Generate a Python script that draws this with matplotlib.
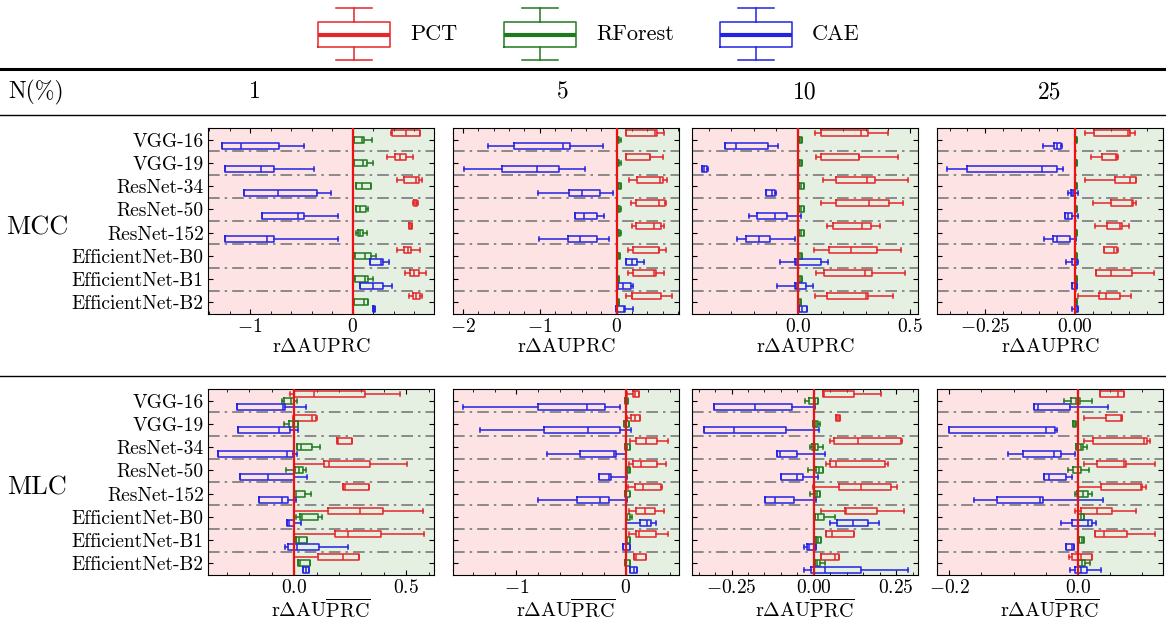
import numpy as np
import matplotlib
matplotlib.use('Agg')
import matplotlib.pyplot as plt
from matplotlib.ticker import MultipleLocator, AutoMinorLocator
from matplotlib.lines import Line2D

plt.rcParams.update({
    'font.family': 'serif',
    'font.serif': ['cmr10'],
    'mathtext.fontset': 'cm',
    'axes.formatter.use_mathtext': True,
})

# Models (rows of every panel) and methods
models = ['VGG-16', 'VGG-19', 'ResNet-34', 'ResNet-50', 'ResNet-152',
          'EfficientNet-B0', 'EfficientNet-B1', 'EfficientNet-B2']
methods = ['PCT', 'RForest', 'CAE']
n_pct = ['1', '5', '10', '25']

# box stats per model: [whislo, q1, median, q3, whishi]
# ---- MCC ----
mcc_n1_pct = [[0.37, 0.38, 0.514, 0.649, 0.655], [0.332, 0.415, 0.463, 0.521, 0.588],
              [0.425, 0.502, 0.613, 0.645, 0.671], [0.588, 0.591, 0.613, 0.629, 0.633],
              [0.548, 0.55, 0.562, 0.575, 0.578], [0.431, 0.502, 0.534, 0.566, 0.649],
              [0.511, 0.559, 0.597, 0.645, 0.716], [0.55, 0.588, 0.613, 0.652, 0.677]]
mcc_n1_rf = [[0.016, 0.016, 0.09, 0.112, 0.188], [0.016, 0.016, 0.096, 0.137, 0.201],
             [0.035, 0.035, 0.086, 0.173, 0.173], [0.032, 0.032, 0.07, 0.125, 0.150],
             [0.029, 0.054, 0.073, 0.102, 0.134], [0.016, 0.022, 0.118, 0.176, 0.224],
             [0.016, 0.022, 0.118, 0.150, 0.201], [0.016, 0.016, 0.112, 0.150, 0.150]]
mcc_n1_cae = [[-1.272, -1.272, -1.089, -0.722, -0.473], [-1.243, -1.243, -0.898, -0.764, -0.383],
              [-1.058, -1.058, -0.732, -0.348, -0.208], [-0.885, -0.885, -0.537, -0.476, -0.144],
              [-1.243, -1.243, -0.831, -0.77, -0.144], [0.169, 0.169, 0.278, 0.297, 0.351],
              [0.073, 0.073, 0.198, 0.291, 0.383], [0.195, 0.195, 0.208, 0.22, 0.22]]

mcc_n5_pct = [[0.126, 0.126, 0.492, 0.519, 0.614], [0.118, 0.118, 0.43, 0.431, 0.606],
              [0.161, 0.27, 0.558, 0.597, 0.658], [0.187, 0.253, 0.549, 0.627, 0.645],
              [0.2, 0.257, 0.484, 0.575, 0.61], [0.144, 0.209, 0.549, 0.549, 0.645],
              [0.153, 0.209, 0.479, 0.514, 0.614], [0.122, 0.196, 0.2, 0.571, 0.723]]
mcc_n5_rf = [[0.0, 0.01, 0.02, 0.035, 0.05], [0.0, 0.01, 0.02, 0.035, 0.05],
             [0.01, 0.01, 0.03, 0.055, 0.055], [0.005, 0.01, 0.02, 0.04, 0.05],
             [0.005, 0.01, 0.02, 0.045, 0.05], [0.005, 0.01, 0.02, 0.04, 0.045],
             [0.0, 0.005, 0.01, 0.025, 0.03], [0.0, 0.005, 0.01, 0.025, 0.03]]
mcc_n5_cae = [[-1.673, -1.342, -0.693, -0.61, -0.183], [-1.987, -1.49, -1.033, -0.745, -0.418],
              [-1.028, -0.623, -0.453, -0.222, -0.052], [-0.545, -0.545, -0.423, -0.261, -0.161],
              [-1.015, -0.632, -0.484, -0.253, -0.1], [0.126, 0.126, 0.2, 0.266, 0.353],
              [0.005, 0.013, 0.083, 0.183, 0.209], [-0.01, -0.005, 0.09, 0.105, 0.209]]

mcc_n10_pct = [[0.074, 0.101, 0.279, 0.312, 0.398], [0.077, 0.099, 0.27, 0.27, 0.445],
               [0.111, 0.168, 0.306, 0.343, 0.49], [0.101, 0.169, 0.316, 0.405, 0.467],
               [0.128, 0.153, 0.285, 0.323, 0.364], [0.068, 0.138, 0.236, 0.352, 0.46],
               [0.08, 0.116, 0.297, 0.329, 0.476], [0.074, 0.126, 0.3, 0.312, 0.423]]
mcc_n10_rf = [[0.003, 0.003, 0.008, 0.015, 0.015], [0.003, 0.003, 0.008, 0.018, 0.018],
              [0.003, 0.003, 0.01, 0.024, 0.024], [0.003, 0.003, 0.01, 0.024, 0.024],
              [0.003, 0.003, 0.01, 0.024, 0.024], [0.0, 0.0, 0.008, 0.018, 0.018],
              [0.0, 0.0, 0.008, 0.015, 0.015], [-0.003, -0.003, 0.004, 0.012, 0.012]]
mcc_n10_cae = [[-0.328, -0.328, -0.277, -0.134, -0.092], [-0.43, -0.43, -0.42, -0.409, -0.403],
               [-0.144, -0.144, -0.119, -0.104, -0.099], [-0.221, -0.187, -0.104, -0.052, 0.013],
               [-0.274, -0.236, -0.177, -0.126, -0.015], [-0.082, -0.015, -0.01, 0.102, 0.131],
               [-0.096, -0.015, -0.01, 0.036, 0.065], [0.004, 0.004, 0.015, 0.039, 0.039]]

mcc_n25_pct = [[0.027, 0.053, 0.148, 0.154, 0.169], [0.044, 0.076, 0.114, 0.118, 0.12],
               [0.027, 0.112, 0.154, 0.17, 0.17], [0.051, 0.1, 0.16, 0.162, 0.17],
               [0.057, 0.089, 0.126, 0.131, 0.152], [0.082, 0.082, 0.11, 0.118, 0.12],
               [0.06, 0.06, 0.101, 0.16, 0.221], [0.009, 0.067, 0.088, 0.126, 0.156]]
mcc_n25_rf = [[0.001, 0.002, 0.003, 0.005, 0.006]] * 8
mcc_n25_cae = [[-0.089, -0.059, -0.051, -0.038, -0.035], [-0.357, -0.3, -0.091, -0.049, -0.034],
               [-0.02, -0.012, -0.007, -0.003, 0.01], [-0.028, -0.028, -0.02, -0.007, 0.008],
               [-0.087, -0.061, -0.051, -0.014, 0.002], [-0.025, -0.008, -0.001, 0.007, 0.01],
               [-0.009, -0.009, 0.0, 0.006, 0.006], [-0.008, -0.001, 0.004, 0.01, 0.01]]

# ---- MLC ----
mlc_n1_pct = [[-0.019, 0.0, 0.089, 0.315, 0.47], [-0.007, 0.0, 0.081, 0.099, 0.1],
              [0.189, 0.189, 0.194, 0.259, 0.259], [0.0, 0.135, 0.155, 0.34, 0.503],
              [0.217, 0.217, 0.226, 0.333, 0.333], [0.0, 0.152, 0.293, 0.396, 0.574],
              [0.0, 0.182, 0.24, 0.389, 0.58], [0.0, 0.105, 0.216, 0.291, 0.291]]
mlc_n1_rf = [[-0.056, -0.044, -0.015, -0.003, 0.012], [-0.044, -0.025, -0.007, 0.015, 0.018],
             [0.012, 0.012, 0.03, 0.081, 0.114], [-0.037, 0.004, 0.022, 0.037, 0.052],
             [-0.001, -0.001, 0.007, 0.049, 0.074], [0.007, 0.027, 0.034, 0.105, 0.126],
             [0.01, 0.01, 0.02, 0.055, 0.055], [0.018, 0.018, 0.025, 0.071, 0.071]]
mlc_n1_cae = [[-0.257, -0.257, -0.049, -0.04, 0.052], [-0.25, -0.25, -0.067, -0.019, 0.015],
              [-0.34, -0.34, -0.033, -0.004, 0.012], [-0.241, -0.241, -0.118, 0.0, 0.059],
              [-0.158, -0.158, -0.055, -0.03, 0.007], [-0.034, -0.034, -0.022, -0.003, 0.03],
              [-0.043, -0.03, 0.012, 0.111, 0.24], [0.04, 0.04, 0.052, 0.067, 0.067]]

mlc_n5_pct = [[0.009, 0.061, 0.085, 0.121, 0.121], [0.009, 0.048, 0.079, 0.13, 0.13],
              [0.033, 0.094, 0.182, 0.282, 0.388], [0.024, 0.061, 0.136, 0.288, 0.364],
              [0.018, 0.085, 0.152, 0.318, 0.327], [0.024, 0.094, 0.17, 0.27, 0.348],
              [0.024, 0.088, 0.115, 0.276, 0.388], [0.076, 0.076, 0.094, 0.182, 0.182]]
mlc_n5_rf = [[-0.01, -0.01, 0.0, 0.015, 0.015], [-0.02, -0.02, 0.0, 0.025, 0.025],
             [-0.005, -0.005, 0.01, 0.04, 0.04], [0.01, 0.01, 0.02, 0.04, 0.04],
             [-0.012, -0.012, 0.005, 0.04, 0.04], [0.0, 0.0, 0.01, 0.035, 0.055],
             [0.003, 0.003, 0.01, 0.033, 0.033], [-0.005, -0.005, 0.005, 0.033, 0.033]]
mlc_n5_cae = [[-1.491, -0.803, -0.355, -0.188, -0.058], [-1.33, -0.748, -0.342, -0.058, 0.048],
              [-0.724, -0.421, -0.112, -0.091, 0.0], [-0.248, -0.248, -0.152, -0.136, 0.009],
              [-0.8, -0.445, -0.233, -0.152, 0.009], [0.0, 0.133, 0.191, 0.227, 0.273],
              [-0.03, -0.03, 0.0, 0.039, 0.039], [0.033, 0.033, 0.07, 0.1, 0.1]]

mlc_n10_pct = [[0.028, 0.028, 0.031, 0.121, 0.205], [0.068, 0.068, 0.074, 0.08, 0.08],
               [0.048, 0.061, 0.133, 0.263, 0.268], [0.038, 0.05, 0.068, 0.215, 0.225],
               [-0.004, 0.077, 0.142, 0.235, 0.253], [0.021, 0.095, 0.098, 0.193, 0.273],
               [0.036, 0.036, 0.056, 0.123, 0.123], [0.021, 0.021, 0.063, 0.076, 0.076]]
mlc_n10_rf = [[-0.027, -0.015, 0.003, 0.011, 0.011], [-0.004, -0.004, 0.005, 0.011, 0.018],
              [-0.012, -0.007, 0.003, 0.013, 0.028], [-0.017, 0.005, 0.015, 0.028, 0.028],
              [-0.012, 0.003, 0.01, 0.018, 0.018], [0.003, 0.003, 0.012, 0.03, 0.065],
              [0.006, 0.006, 0.012, 0.023, 0.023], [0.003, 0.003, 0.01, 0.018, 0.033]]
mlc_n10_cae = [[-0.304, -0.304, -0.179, -0.067, 0.003], [-0.334, -0.334, -0.244, -0.085, 0.015],
               [-0.112, -0.112, -0.102, -0.05, 0.033], [-0.099, -0.099, -0.052, -0.034, 0.013],
               [-0.149, -0.149, -0.117, -0.06, 0.005], [0.05, 0.07, 0.118, 0.165, 0.198],
               [-0.03, -0.02, -0.014, 0.006, 0.006], [-0.03, -0.009, 0.033, 0.143, 0.285]]

mlc_n25_pct = [[0.034, 0.034, 0.062, 0.072, 0.072], [0.01, 0.044, 0.067, 0.069, 0.069],
               [0.009, 0.023, 0.102, 0.107, 0.112], [0.01, 0.029, 0.071, 0.074, 0.119],
               [0.0, 0.036, 0.098, 0.1, 0.106], [-0.005, 0.005, 0.03, 0.053, 0.09],
               [0.027, 0.027, 0.041, 0.076, 0.119], [-0.014, -0.009, 0.005, 0.022, 0.022]]
mlc_n25_rf = [[-0.021, -0.011, -0.003, 0.003, 0.022], [-0.008, -0.008, -0.005, -0.003, -0.003],
              [-0.003, -0.003, 0.004, 0.008, 0.014], [-0.015, -0.008, 0.0, 0.005, 0.017],
              [-0.005, -0.001, 0.008, 0.015, 0.021], [0.0, 0.0, 0.004, 0.009, 0.009],
              [0.002, 0.002, 0.006, 0.01, 0.01], [0.0, 0.0, 0.006, 0.011, 0.018]]
mlc_n25_cae = [[-0.068, -0.068, -0.062, -0.012, 0.047], [-0.2, -0.2, -0.049, -0.036, -0.032],
               [-0.108, -0.085, -0.037, -0.027, -0.004], [-0.053, -0.053, -0.045, -0.018, -0.01],
               [-0.162, -0.126, -0.059, -0.055, 0.039], [-0.027, -0.009, 0.015, 0.021, 0.028],
               [-0.018, -0.018, -0.01, -0.007, -0.007], [-0.013, -0.004, 0.004, 0.014, 0.036]]

mcc_panels = [(mcc_n1_pct, mcc_n1_rf, mcc_n1_cae), (mcc_n5_pct, mcc_n5_rf, mcc_n5_cae),
              (mcc_n10_pct, mcc_n10_rf, mcc_n10_cae), (mcc_n25_pct, mcc_n25_rf, mcc_n25_cae)]
mlc_panels = [(mlc_n1_pct, mlc_n1_rf, mlc_n1_cae), (mlc_n5_pct, mlc_n5_rf, mlc_n5_cae),
              (mlc_n10_pct, mlc_n10_rf, mlc_n10_cae), (mlc_n25_pct, mlc_n25_rf, mlc_n25_cae)]

mcc_xlims = [(-1.41, 0.79), (-2.13, 0.81), (-0.475, 0.534), (-0.385, 0.246)]
mlc_xlims = [(-0.385, 0.624), (-1.58, 0.485), (-0.37, 0.316), (-0.219, 0.132)]
mcc_steps = [1, 1, 0.5, 0.25]
mlc_steps = [0.5, 1, 0.25, 0.2]

colors = ['#e5262a', '#1f7a1f', '#2323e3']
offsets = [-0.27, 0.0, 0.28]

W, H = 1166, 636
fig = plt.figure(figsize=(W / 100, H / 100), dpi=100)


def px_axes(x0, y0, x1, y1):
    return fig.add_axes([x0 / W, 1 - y1 / H, (x1 - x0) / W, (y1 - y0) / H])


def draw_panel(ax, series, xlim, step, xlabel, show_y):
    ax.axvspan(xlim[0], 0, color='#fde3e3', zorder=0, lw=0)
    ax.axvspan(0, xlim[1], color='#e5f0e3', zorder=0, lw=0)
    for i in range(len(models) - 1):
        ax.axhline(i + 0.5, color='#7a7a7a', ls=(0, (7, 3, 1.5, 3)), lw=1.2, zorder=1)
    for k, data in enumerate(series):
        stats = [dict(whislo=d[0], q1=d[1], med=d[2], q3=d[3], whishi=d[4]) for d in data]
        pos = np.arange(len(models)) + offsets[k]
        c = colors[k]
        lp = dict(color=c, lw=1.1)
        ax.bxp(stats, positions=pos, widths=0.26, capwidths=0.18,
               orientation='horizontal', showfliers=False, manage_ticks=False,
               boxprops=lp, whiskerprops=lp, capprops=lp, medianprops=lp)
    ax.axvline(0, color='#ee1111', lw=1.6, zorder=3)
    ax.set_ylim(len(models) - 0.5, -0.5)
    ax.set_xlim(xlim)
    ax.set_yticks(np.arange(len(models)))
    if show_y:
        ax.set_yticklabels(models, fontsize=14.5)
    else:
        ax.set_yticklabels([])
    ax.xaxis.set_major_locator(MultipleLocator(step))
    ax.xaxis.set_minor_locator(AutoMinorLocator())
    ax.tick_params(direction='in', top=True, right=True, which='both', labelsize=14)
    ax.tick_params(which='major', length=3.5, pad=3)
    ax.tick_params(which='minor', length=2)
    ax.set_xlabel(xlabel, fontsize=14.5, labelpad=1)


lefts = [208, 453, 692, 937]
for j in range(4):
    ax = px_axes(lefts[j], 128, lefts[j] + 226, 314)
    draw_panel(ax, mcc_panels[j], mcc_xlims[j], mcc_steps[j], r'r$\Delta$AUPRC', j == 0)
    ax = px_axes(lefts[j], 389, lefts[j] + 226, 575)
    draw_panel(ax, mlc_panels[j], mlc_xlims[j], mlc_steps[j],
               r'r$\Delta$AU$\overline{\mathrm{PRC}}$', j == 0)

# legend drawn by hand (vertical box glyphs)
leg = px_axes(300, 4, 880, 64)
leg.set_xlim(300, 880)
leg.set_ylim(64, 4)
leg.axis('off')
leg_x = [354, 540, 756]
for k, name in enumerate(methods):
    lp = dict(color=colors[k], lw=1.1)
    leg.bxp([dict(whislo=60, q1=47, med=34.5, q3=22, whishi=8)], positions=[leg_x[k]],
            widths=72, capwidths=36, showfliers=False, manage_ticks=False,
            boxprops=lp, whiskerprops=lp, capprops=lp,
            medianprops=dict(color=colors[k], lw=3))
    leg.text(leg_x[k] + 56, 34.5, name, fontsize=16, va='center', ha='left')

# table-like header and separators
for y, lw in [(69, 2.2), (115, 1.0), (376, 1.0)]:
    fig.add_artist(Line2D([0, 1], [1 - y / H] * 2, color='k', lw=lw))
fig.text(8 / W, 1 - 92 / H, 'N(%)', fontsize=17, va='center', ha='left')
for xc, lab in zip([255, 563, 805, 1050], n_pct):
    fig.text(xc / W, 1 - 92 / H, lab, fontsize=17, va='center', ha='center')
fig.text(37 / W, 1 - 228 / H, 'MCC', fontsize=19, va='center', ha='center')
fig.text(37 / W, 1 - 488 / H, 'MLC', fontsize=19, va='center', ha='center')

fig.savefig('out.png', dpi=100)
